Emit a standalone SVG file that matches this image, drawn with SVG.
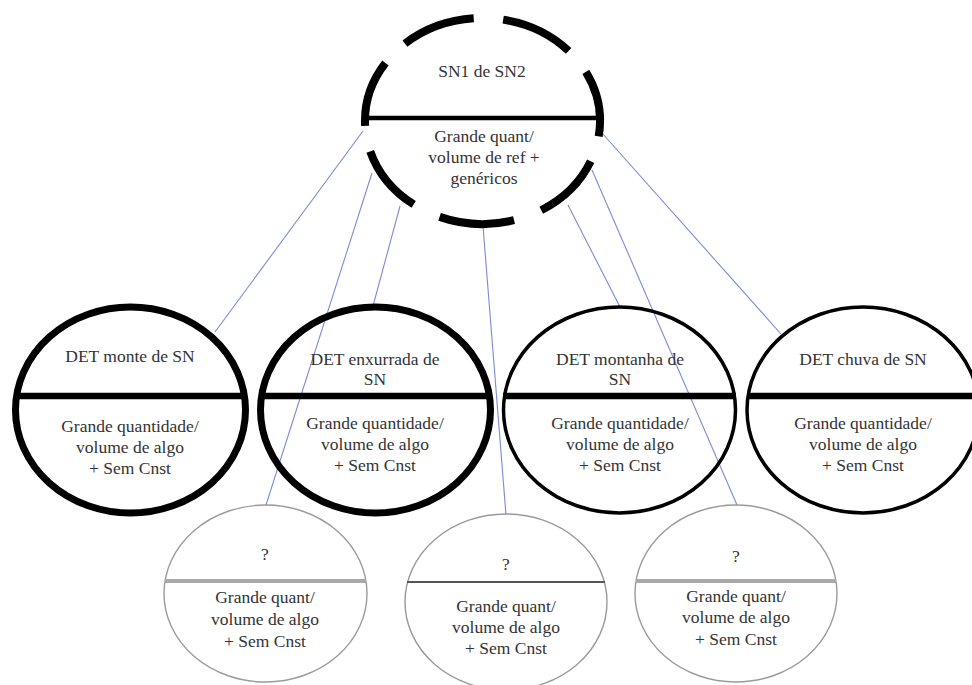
<svg xmlns="http://www.w3.org/2000/svg" width="972" height="685" viewBox="0 0 972 685">
<style>
  text { font-family: "Liberation Serif", "Times New Roman", serif; font-size: 17.5px; fill: #333; text-anchor: middle; }
  .conn { stroke: #7b8cd4; stroke-width: 1.1; fill: none; }
  .dash { stroke: #000; stroke-width: 8; fill: none; stroke-linecap: butt; }
  .thick { stroke: #000; stroke-width: 7; fill: none; }
  .thin { stroke: #000; stroke-width: 3.5; fill: none; }
  .div { stroke: #000; stroke-width: 6.5; }
  .light { stroke: #9a9a9a; stroke-width: 1.4; fill: none; }
  .ldiv { stroke: #a8a8a8; stroke-width: 4; }
  .ddiv { stroke: #555; stroke-width: 2; }
</style>
<rect width="972" height="685" fill="#fff"/>
<g id="connectors">
  <line class="conn" x1="363" y1="131" x2="215" y2="332"/>
  <line class="conn" x1="372" y1="173" x2="266" y2="505"/>
  <line class="conn" x1="400" y1="206" x2="373" y2="306"/>
  <line class="conn" x1="483" y1="226" x2="506" y2="515"/>
  <line class="conn" x1="568" y1="205" x2="620" y2="307"/>
  <line class="conn" x1="592" y1="170" x2="737" y2="505"/>
  <line class="conn" x1="602" y1="133" x2="781" y2="334"/>
</g>
<g id="top">
  <path class="dash" d="M590.66 161.24 A117.5 103 0 0 1 541.25 210.2 M514.04 220.22 A117.5 103 0 0 1 439.58 216.88 M413.67 204.48 A117.5 103 0 0 1 370.22 151.35 M365.13 125.87 A117.5 103 0 0 1 385.42 62.97 M404.95 43.62 A117.5 103 0 0 1 473.71 18.29 M503.19 19.61 A117.5 103 0 0 1 568.63 50.93 M585.83 71.95 A117.5 103 0 0 1 598.68 136.35"/>
  <line x1="364" y1="118" x2="601" y2="118" stroke="#000" stroke-width="4.5"/>
  <text x="482" y="77">SN1 de SN2</text>
  <text x="484" y="142">Grande quant/</text>
  <text x="484" y="163">volume de ref +</text>
  <text x="484" y="184">genéricos</text>
</g>
<g id="det-monte">
  <ellipse class="thick" cx="130.5" cy="410" rx="115" ry="103"/>
  <line class="div" x1="14" y1="396" x2="247" y2="396"/>
  <text x="130" y="362">DET monte de SN</text>
  <text x="130" y="432">Grande quantidade/</text>
  <text x="130" y="453">volume de algo</text>
  <text x="130" y="474">+ Sem Cnst</text>
</g>
<g id="det-enxurrada">
  <ellipse class="thick" cx="375.5" cy="410" rx="115" ry="103"/>
  <line class="div" x1="259" y1="396" x2="492" y2="396"/>
  <text x="375" y="365">DET enxurrada de</text>
  <text x="375" y="385">SN</text>
  <text x="375" y="429">Grande quantidade/</text>
  <text x="375" y="450">volume de algo</text>
  <text x="375" y="471">+ Sem Cnst</text>
</g>
<g id="det-montanha">
  <ellipse class="thin" cx="619.5" cy="410" rx="116" ry="103"/>
  <line class="div" x1="503" y1="396" x2="736" y2="396"/>
  <text x="620" y="365">DET montanha de</text>
  <text x="620" y="385">SN</text>
  <text x="620" y="429">Grande quantidade/</text>
  <text x="620" y="450">volume de algo</text>
  <text x="620" y="471">+ Sem Cnst</text>
</g>
<g id="det-chuva">
  <ellipse class="thin" cx="863" cy="410" rx="116" ry="103"/>
  <line class="div" x1="747" y1="396" x2="972" y2="396"/>
  <text x="863" y="365">DET chuva de SN</text>
  <text x="863" y="429">Grande quantidade/</text>
  <text x="863" y="450">volume de algo</text>
  <text x="863" y="471">+ Sem Cnst</text>
</g>
<g id="q1">
  <ellipse class="light" cx="265.5" cy="593.5" rx="101.5" ry="88.5"/>
  <line class="ldiv" x1="165" y1="581" x2="366" y2="581"/>
  <text x="265" y="560">?</text>
  <text x="265" y="603">Grande quant/</text>
  <text x="265" y="625">volume de algo</text>
  <text x="265" y="647">+ Sem Cnst</text>
</g>
<g id="q2">
  <ellipse class="light" cx="506" cy="602" rx="101" ry="88"/>
  <line class="ddiv" x1="407" y1="582" x2="605" y2="582"/>
  <text x="506" y="570">?</text>
  <text x="506" y="612">Grande quant/</text>
  <text x="506" y="633">volume de algo</text>
  <text x="506" y="654">+ Sem Cnst</text>
</g>
<g id="q3">
  <ellipse class="light" cx="736" cy="593.5" rx="101" ry="88.5"/>
  <line class="ldiv" x1="636" y1="581" x2="836" y2="581"/>
  <text x="736" y="562">?</text>
  <text x="736" y="602">Grande quant/</text>
  <text x="736" y="623">volume de algo</text>
  <text x="736" y="645">+ Sem Cnst</text>
</g>
</svg>
